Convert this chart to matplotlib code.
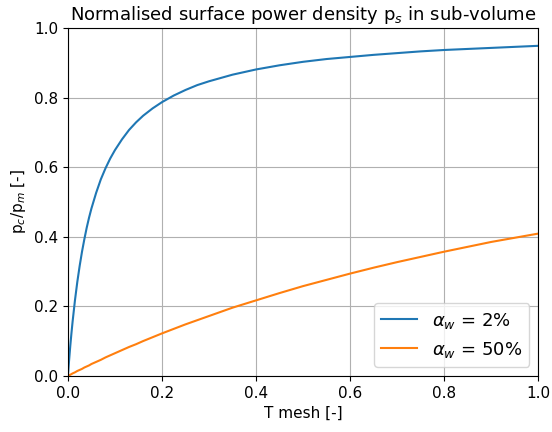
import matplotlib
matplotlib.use("Agg")
import matplotlib.pyplot as plt

# values
t_mesh = [0.0, 0.0025, 0.005, 0.0075, 0.01, 0.015, 0.02, 0.025, 0.03, 0.035, 0.04, 0.045,
          0.05, 0.06, 0.07, 0.08, 0.09, 0.1, 0.115, 0.13, 0.145, 0.16, 0.18, 0.2, 0.225, 0.25,
          0.275, 0.3, 0.35, 0.4, 0.45, 0.5, 0.55, 0.6, 0.65, 0.7, 0.75, 0.8, 0.85, 0.9, 0.95, 1.0]
p_2 = [0.0, 0.044, 0.085, 0.122, 0.156, 0.217, 0.270, 0.316, 0.357, 0.393, 0.426, 0.455,
       0.481, 0.526, 0.565, 0.597, 0.625, 0.649, 0.680, 0.707, 0.729, 0.748, 0.769, 0.787,
       0.806, 0.822, 0.836, 0.847, 0.866, 0.881, 0.893, 0.903, 0.911, 0.917, 0.923, 0.928,
       0.933, 0.937, 0.940, 0.943, 0.946, 0.949]
p_50 = [0.0, 0.002, 0.003, 0.005, 0.007, 0.010, 0.014, 0.017, 0.020, 0.024, 0.027, 0.030,
        0.034, 0.040, 0.046, 0.053, 0.059, 0.065, 0.074, 0.083, 0.091, 0.100, 0.111, 0.122,
        0.135, 0.148, 0.160, 0.172, 0.196, 0.217, 0.238, 0.258, 0.276, 0.294, 0.311, 0.327,
        0.342, 0.357, 0.371, 0.385, 0.397, 0.409]
labels = [r"$\alpha_w$ = 2%", r"$\alpha_w$ = 50%"]

fig, ax = plt.subplots(figsize=(5.52, 4.32), dpi=100)
fig.subplots_adjust(left=0.123, right=0.975, top=0.935, bottom=0.13)
ax.plot(t_mesh, p_2, color="#1f77b4", lw=1.5, label=labels[0])
ax.plot(t_mesh, p_50, color="#ff7f0e", lw=1.5, label=labels[1])
ax.set_xlim(0, 1); ax.set_ylim(0, 1)
ax.grid(True)
ax.tick_params(labelsize=11)
ax.set_xlabel("T mesh [-]", fontsize=11)
ax.set_ylabel(r"p$_c$/p$_m$ [-]", fontsize=11)
ax.set_title(r"Normalised surface power density p$_s$ in sub-volume", fontsize=13)
ax.legend(loc="lower right", fontsize=13)
fig.savefig("out.png", dpi=100)
